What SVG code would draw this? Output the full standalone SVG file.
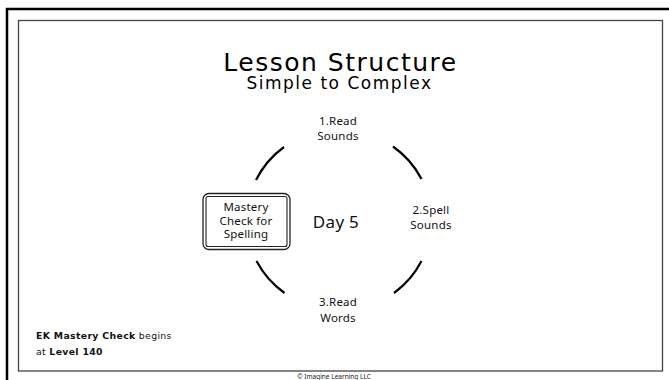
<svg xmlns="http://www.w3.org/2000/svg" width="669" height="380" viewBox="0 0 669 380">
<style>
.t{font-family:"Noto Sans","DejaVu Sans",sans-serif;fill:#111;text-anchor:middle}
.s{font-size:11.5px;letter-spacing:0.2px}
.arc{fill:none;stroke:#000;stroke-width:2.2;stroke-linecap:butt}
.n{font-family:"DejaVu Sans",sans-serif;font-size:9.3px;letter-spacing:0.35px;fill:#111}
</style>
<rect width="669" height="380" fill="#fff"/>
<g id="frame">
<path d="M7,380 V9 H669" fill="none" stroke="#000" stroke-width="2.5"/>
<rect x="18.5" y="20.5" width="644" height="350.5" fill="none" stroke="#444" stroke-width="1.3"/>
</g>
<g id="title">
<text x="340.5" y="70.7" font-family="DejaVu Sans,sans-serif" font-size="25" letter-spacing="1.5" text-anchor="middle" fill="#000">Lesson Structure</text>
<text x="339.5" y="89" font-family="DejaVu Sans,sans-serif" font-size="17" letter-spacing="1.5" text-anchor="middle" fill="#000">Simple to Complex</text>
</g>
<g id="connectors">
<path class="arc" d="M256,180 A92,92 0 0 1 284,147"/>
<path class="arc" d="M393,146.5 A92,92 0 0 1 421.5,179"/>
<path class="arc" d="M421.5,261 A92,92 0 0 1 394,293"/>
<path class="arc" d="M284.5,293 A92,92 0 0 1 256.5,261"/>
</g>
<g id="read-sounds">
<text class="t s" x="338" y="125">1.Read</text>
<text class="t s" x="338" y="139.5">Sounds</text>
</g>
<g id="spell-sounds">
<text class="t s" x="431" y="214">2.Spell</text>
<text class="t s" x="431" y="229">Sounds</text>
</g>
<g id="read-words">
<text class="t s" x="338" y="306">3.Read</text>
<text class="t s" x="338" y="321.5">Words</text>
</g>
<g id="day5">
<text class="t" x="336" y="228" font-size="17" letter-spacing="0.3">Day 5</text>
</g>
<g id="mastery-check">
<rect x="203" y="193.5" width="87" height="56" rx="6" fill="#fff" stroke="#222" stroke-width="1.3"/>
<rect x="206" y="196.5" width="81" height="50" rx="2" fill="none" stroke="#222" stroke-width="1.1"/>
<text class="t s" x="246" y="211">Mastery</text>
<text class="t s" x="246" y="224.5">Check for</text>
<text class="t s" x="246" y="238">Spelling</text>
</g>
<g id="note">
<text class="n" x="36" y="339"><tspan font-weight="bold">EK Mastery Check</tspan> begins</text>
<text class="n" x="36" y="355">at <tspan font-weight="bold">Level 140</tspan></text>
</g>
<text x="334" y="378.5" font-family="Noto Sans,DejaVu Sans,sans-serif" font-size="6.5" text-anchor="middle" fill="#222">© Imagine Learning LLC</text>
</svg>
